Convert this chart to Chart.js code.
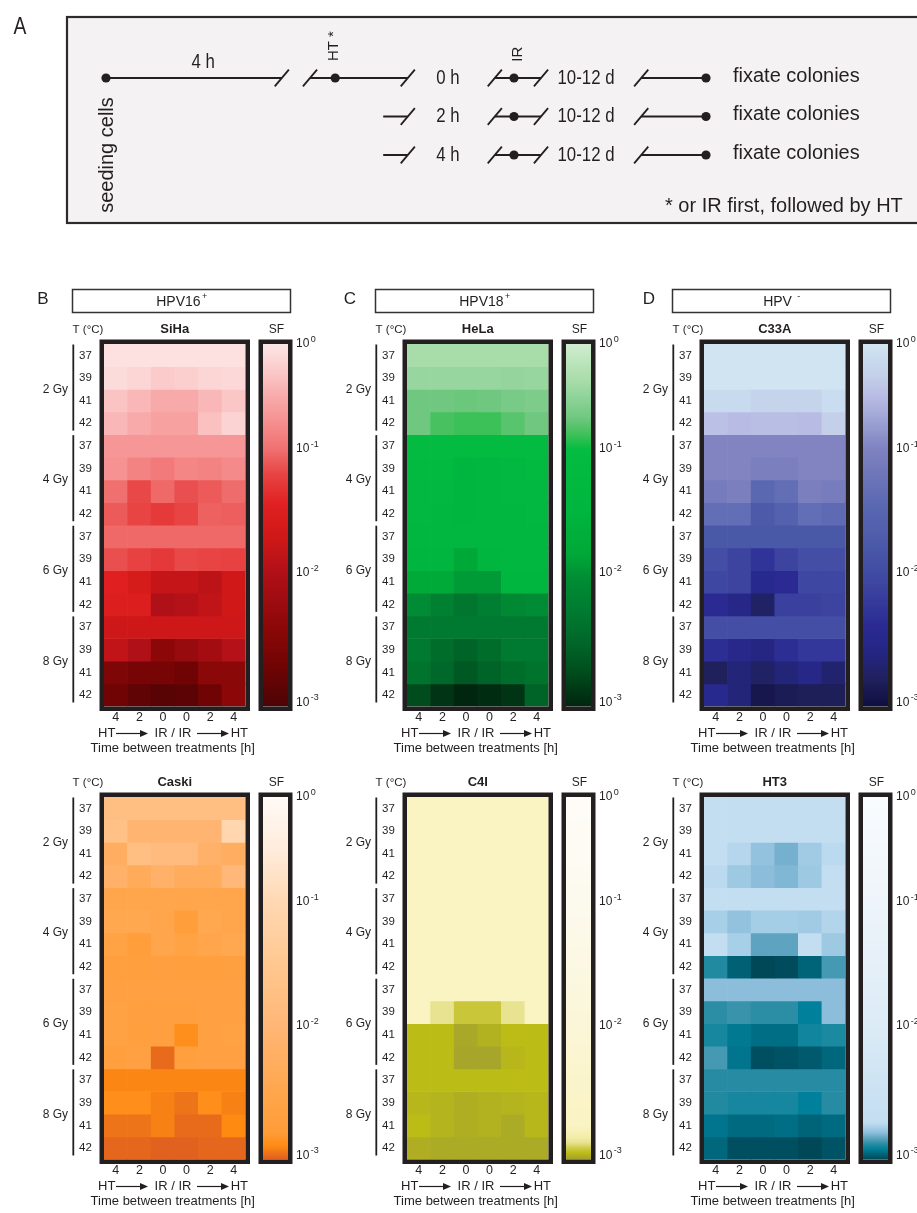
<!DOCTYPE html>
<html>
<head>
<meta charset="utf-8">
<title>Clonogenic survival after HT and IR</title>
<script src="https://cdn.jsdelivr.net/npm/chart.js@4.4.0/dist/chart.umd.min.js"></script>
<style>
  html, body { margin:0; padding:0; background:#fff; width:917px; height:1213px; overflow:hidden; position:relative; }
  canvas { position:absolute; }
</style>
</head>
<body>
<script>
// ---- data -------------------------------------------------------------
const temps = ['37','39','41','42']
const doses = ['2 Gy','4 Gy','6 Gy','8 Gy']
const gaps  = ['4','2','0','0','2','4']          // time between treatments [h]
const sfTicks = [0,-1,-2,-3]                     // log10 SF shown on the colour bar
const sfExp   = ['0','-1','-2','-3']

// log10 surviving fraction, rows: 2 Gy 37..42, 4 Gy ..., 8 Gy 42 ; cols as in gaps
const siha = [
  [-0.05,-0.05,-0.05,-0.05,-0.05,-0.05],
  [-0.10,-0.15,-0.25,-0.20,-0.15,-0.12],
  [-0.30,-0.40,-0.50,-0.50,-0.40,-0.28],
  [-0.40,-0.50,-0.58,-0.58,-0.33,-0.17],
  [-0.68,-0.68,-0.68,-0.68,-0.68,-0.68],
  [-0.72,-0.85,-0.92,-0.82,-0.85,-0.78],
  [-1.00,-1.18,-1.03,-1.15,-1.10,-1.02],
  [-1.10,-1.20,-1.27,-1.20,-1.07,-1.08],
  [-1.03,-1.03,-1.03,-1.03,-1.03,-1.03],
  [-1.15,-1.22,-1.28,-1.18,-1.20,-1.22],
  [-1.45,-1.60,-1.80,-1.80,-1.90,-1.70],
  [-1.50,-1.50,-2.00,-1.95,-1.85,-1.70],
  [-1.72,-1.72,-1.72,-1.72,-1.72,-1.72],
  [-1.85,-2.00,-2.40,-2.28,-2.15,-1.95],
  [-2.55,-2.62,-2.62,-2.70,-2.42,-2.42],
  [-2.70,-2.83,-2.90,-2.87,-2.70,-2.40]
]
const hela = [
  [-0.35,-0.35,-0.35,-0.35,-0.35,-0.35],
  [-0.45,-0.45,-0.45,-0.45,-0.47,-0.45],
  [-0.70,-0.70,-0.72,-0.70,-0.65,-0.62],
  [-0.70,-0.83,-0.87,-0.87,-0.78,-0.70],
  [-1.10,-1.10,-1.10,-1.10,-1.10,-1.10],
  [-1.20,-1.20,-1.50,-1.40,-1.30,-1.20],
  [-1.30,-1.30,-1.50,-1.40,-1.30,-1.30],
  [-1.30,-1.40,-1.50,-1.40,-1.40,-1.30],
  [-1.40,-1.40,-1.40,-1.40,-1.40,-1.40],
  [-1.50,-1.50,-1.85,-1.50,-1.40,-1.40],
  [-1.80,-1.80,-1.95,-1.95,-1.50,-1.50],
  [-2.05,-2.20,-2.35,-2.25,-2.10,-2.05],
  [-2.30,-2.30,-2.30,-2.30,-2.30,-2.30],
  [-2.30,-2.45,-2.55,-2.45,-2.30,-2.30],
  [-2.38,-2.50,-2.65,-2.55,-2.45,-2.38],
  [-2.75,-2.90,-3.00,-2.95,-2.90,-2.55]
]
const c33a = [
  [-0.02,-0.02,-0.02,-0.02,-0.02,-0.02],
  [-0.02,-0.02,-0.02,-0.02,-0.02,-0.02],
  [-0.15,-0.15,-0.25,-0.25,-0.25,-0.12],
  [-0.45,-0.50,-0.48,-0.48,-0.50,-0.30],
  [-0.98,-0.98,-0.98,-0.98,-0.98,-0.98],
  [-0.98,-0.98,-1.05,-1.05,-0.98,-0.98],
  [-1.12,-1.05,-1.45,-1.35,-1.05,-1.10],
  [-1.35,-1.35,-1.75,-1.60,-1.35,-1.40],
  [-1.80,-1.80,-1.80,-1.80,-1.80,-1.80],
  [-1.95,-2.10,-2.30,-2.10,-1.95,-1.95],
  [-2.05,-2.10,-2.45,-2.40,-2.05,-2.05],
  [-2.40,-2.55,-2.75,-2.15,-2.15,-2.10],
  [-1.95,-1.95,-1.95,-1.95,-1.95,-1.95],
  [-2.35,-2.50,-2.60,-2.35,-2.25,-2.25],
  [-2.80,-2.65,-2.75,-2.65,-2.55,-2.70],
  [-2.45,-2.65,-2.90,-2.85,-2.82,-2.82]
]
const caski = [
  [-1.75,-1.75,-1.75,-1.75,-1.75,-1.75],
  [-1.70,-2.05,-2.05,-2.05,-2.05,-1.05],
  [-2.25,-1.75,-1.85,-1.85,-2.15,-2.25],
  [-2.15,-2.35,-2.15,-2.30,-2.30,-1.95],
  [-2.50,-2.50,-2.50,-2.50,-2.50,-2.50],
  [-2.45,-2.45,-2.50,-2.75,-2.45,-2.50],
  [-2.60,-2.75,-2.50,-2.60,-2.50,-2.45],
  [-2.72,-2.72,-2.70,-2.72,-2.72,-2.68],
  [-2.65,-2.65,-2.65,-2.65,-2.65,-2.65],
  [-2.62,-2.70,-2.70,-2.70,-2.65,-2.65],
  [-2.62,-2.72,-2.70,-2.87,-2.65,-2.62],
  [-2.72,-2.65,-2.97,-2.72,-2.65,-2.65],
  [-2.91,-2.91,-2.91,-2.91,-2.91,-2.91],
  [-2.88,-2.88,-2.92,-2.95,-2.88,-2.92],
  [-2.95,-2.95,-2.92,-2.97,-2.97,-2.90],
  [-2.98,-2.98,-2.99,-2.99,-2.98,-2.98]
]
const c4i = [
  [-2.75,-2.75,-2.75,-2.75,-2.75,-2.75],
  [-2.75,-2.75,-2.75,-2.75,-2.75,-2.75],
  [-2.75,-2.75,-2.75,-2.75,-2.75,-2.75],
  [-2.75,-2.75,-2.75,-2.75,-2.75,-2.75],
  [-2.75,-2.75,-2.75,-2.75,-2.75,-2.75],
  [-2.75,-2.75,-2.75,-2.75,-2.75,-2.75],
  [-2.75,-2.75,-2.75,-2.75,-2.75,-2.75],
  [-2.75,-2.75,-2.75,-2.75,-2.75,-2.75],
  [-2.75,-2.75,-2.75,-2.75,-2.75,-2.75],
  [-2.75,-2.87,-2.925,-2.925,-2.87,-2.75],
  [-2.95,-2.95,-2.985,-2.97,-2.95,-2.95],
  [-2.95,-2.95,-2.99,-2.99,-2.96,-2.95],
  [-2.95,-2.95,-2.95,-2.95,-2.95,-2.95],
  [-2.96,-2.965,-2.975,-2.97,-2.965,-2.96],
  [-2.95,-2.965,-2.975,-2.97,-2.98,-2.96],
  [-2.975,-2.98,-2.98,-2.98,-2.98,-2.98]
]
const ht3 = [
  [-2.72,-2.72,-2.72,-2.72,-2.72,-2.72],
  [-2.72,-2.72,-2.72,-2.72,-2.72,-2.72],
  [-2.72,-2.74,-2.79,-2.82,-2.77,-2.73],
  [-2.73,-2.775,-2.80,-2.81,-2.775,-2.72],
  [-2.72,-2.72,-2.72,-2.72,-2.72,-2.72],
  [-2.76,-2.79,-2.765,-2.765,-2.77,-2.745],
  [-2.72,-2.76,-2.84,-2.84,-2.72,-2.775],
  [-2.89,-2.965,-3.00,-2.995,-2.96,-2.86],
  [-2.80,-2.80,-2.80,-2.80,-2.80,-2.80],
  [-2.88,-2.87,-2.88,-2.88,-2.92,-2.80],
  [-2.90,-2.93,-2.945,-2.945,-2.905,-2.895],
  [-2.86,-2.935,-2.99,-2.985,-2.975,-2.955],
  [-2.885,-2.885,-2.885,-2.885,-2.885,-2.885],
  [-2.89,-2.90,-2.90,-2.90,-2.92,-2.885],
  [-2.935,-2.95,-2.95,-2.945,-2.96,-2.95],
  [-2.955,-2.99,-2.99,-2.99,-3.00,-2.985]
]

// ---- colour maps (log10 SF -> colour) -------------------------------
const sihaCmap  = [[0,'#fde6e6'],[-0.3,'#fbc4c4'],[-0.5,'#f8aaaa'],[-0.7,'#f69494'],[-1,'#f07070'],[-1.2,'#e84444'],[-1.45,'#e02020'],[-1.7,'#d01818'],[-2,'#b01018'],[-2.4,'#8c0808'],[-2.7,'#700404'],[-3,'#4c0406']]
const helaCmap  = [[0,'#d0ecd0'],[-0.35,'#a8dca8'],[-0.45,'#98d6a0'],[-0.7,'#70c880'],[-0.87,'#3cc058'],[-1,'#04bc42'],[-1.5,'#00b63e'],[-1.85,'#00a838'],[-2.05,'#008c34'],[-2.3,'#007a30'],[-2.55,'#006428'],[-2.75,'#004c1c'],[-2.9,'#003414'],[-3,'#002610']]
const c33aCmap  = [[0,'#d2e6f2'],[-0.15,'#c8daee'],[-0.3,'#c4d0ea'],[-0.5,'#b8bce4'],[-0.7,'#a0a6d6'],[-1,'#7f82c0'],[-1.45,'#5a68b2'],[-1.8,'#4a58a8'],[-2.1,'#3c44a0'],[-2.4,'#2a2a92'],[-2.6,'#242682'],[-2.8,'#20205c'],[-3,'#0e0e40']]
const caskiCmap = [[0,'#fffaf6'],[-0.5,'#ffecdc'],[-1,'#ffd8b2'],[-1.5,'#ffc890'],[-2,'#ffb676'],[-2.5,'#ffa64c'],[-2.8,'#ff9c38'],[-2.9,'#ff8a12'],[-3,'#de5e20']]
const c4iCmap   = [[0,'#fffcf8'],[-1,'#fcfaee'],[-2,'#fbf6d8'],[-2.75,'#faf3c2'],[-2.84,'#f2eca8'],[-2.88,'#e4e088'],[-2.92,'#ccc840'],[-2.95,'#bcbc16'],[-3,'#a2a030']]
const ht3Cmap   = [[0,'#f9fcff'],[-1,'#eef4fa'],[-2,'#dcebf6'],[-2.72,'#c3def1'],[-2.76,'#a8cfe8'],[-2.8,'#8cbedc'],[-2.84,'#5ea4c0'],[-2.88,'#2c8ea4'],[-2.92,'#00809a'],[-2.96,'#006478'],[-3,'#004858']]

// the colour bar is not evenly divided between decades
const barTickFrac = [0, 0.29, 0.632, 1]

const panels = [
  {name:'SiHa',  values:siha,  cmap:sihaCmap,  col:0, row:0, letter:'B', group:'HPV16', sup:'+'},
  {name:'HeLa',  values:hela,  cmap:helaCmap,  col:1, row:0, letter:'C', group:'HPV18', sup:'+'},
  {name:'C33A',  values:c33a,  cmap:c33aCmap,  col:2, row:0, letter:'D', group:'HPV ', sup:'-'},
  {name:'Caski', values:caski, cmap:caskiCmap, col:0, row:1},
  {name:'C4I',   values:c4i,   cmap:c4iCmap,   col:1, row:1},
  {name:'HT3',   values:ht3,   cmap:ht3Cmap,   col:2, row:1}
]

// ---- helpers ----------------------------------------------------------
const ink = '#231f20'
const sans = "'Liberation Sans', Arial, sans-serif"
const font = (s, w) => (w ? w + ' ' : '') + s + 'px ' + sans
const colDx = [0, 303, 600]
const rowDy = [0, 453]

function hex2rgb(h) { return [1,3,5].map(i => parseInt(h.slice(i, i+2), 16)) }
function cmapColor(stops, v) {
  if (v >= stops[0][0]) return stops[0][1]
  for (let i = 1; i < stops.length; i++) {
    if (v >= stops[i][0]) {
      const a = stops[i-1], b = stops[i], t = (a[0]-v)/(a[0]-b[0])
      const ca = hex2rgb(a[1]), cb = hex2rgb(b[1])
      return 'rgb(' + ca.map((c,k) => Math.round(c + (cb[k]-c)*t)).join(',') + ')'
    }
  }
  return stops[stops.length-1][1]
}
function interp(xs, ys, v) {
  for (let i = 1; i < xs.length; i++) {
    const lo = Math.min(xs[i-1], xs[i]), hi = Math.max(xs[i-1], xs[i])
    if (v >= lo && v <= hi) return ys[i-1] + (ys[i]-ys[i-1])*(v-xs[i-1])/(xs[i]-xs[i-1])
  }
  return v > xs[0] ? ys[0] : ys[ys.length-1]
}
const logToFrac = v => interp(sfTicks, barTickFrac, v)
const fracToLog = f => interp(barTickFrac, sfTicks, f)

function makeCanvas(left, top, w, h) {
  const c = document.createElement('canvas')
  c.width = w; c.height = h
  c.style.left = left + 'px'; c.style.top = top + 'px'
  c.style.width = w + 'px'; c.style.height = h + 'px'
  document.body.appendChild(c)
  return c
}
function supText(c, base, sup, x, y, size, supSize, align) {
  c.font = font(size)
  const wb = c.measureText(base).width
  c.font = font(supSize)
  const ws = c.measureText(sup).width
  let x0 = align === 'center' ? x - (wb + ws + 1)/2 : x
  c.textAlign = 'left'
  c.font = font(size); c.fillText(base, x0, y)
  c.font = font(supSize); c.fillText(sup, x0 + wb + 1.5, y - size*0.4)
}
// condensed text (the scheme uses a narrow face)
function narrowText(c, t, x, y, size, align) {
  c.save(); c.translate(x, y); c.scale(0.84, 1)
  c.font = font(size); c.textAlign = align || 'center'
  c.fillText(t, 0, 0); c.restore()
}
function arrow(c, x1, x2, y) {
  c.lineWidth = 1.2
  c.beginPath(); c.moveTo(x1, y); c.lineTo(x2 - 6, y); c.stroke()
  c.beginPath(); c.moveTo(x2, y); c.lineTo(x2 - 8, y - 3.5); c.lineTo(x2 - 8, y + 3.5); c.closePath(); c.fill()
}

const baseOpts = {
  responsive:false, animation:false, devicePixelRatio:1, events:[],
  plugins:{ legend:{display:false}, tooltip:{enabled:false} }
}

// ---- A: protocol scheme -----------------------------------------------
const armRows   = [0, 1, 2]
const armLabels = ['0 h', '2 h', '4 h']
// schematic positions along the protocol (seeding = 0, fixation = 100)
const at = {seed:0, brk1:29.3, brk2:34, ht:38.2, armStart:46.2, armEnd:50.3, armLabel:57,
            irIn:64.8, ir:68, irOut:72.5, growth:80, fixIn:89.2, fix:100, fixLabel:104.5, note:132.8}

function seg(x0, x1, r) {
  return {data:[{x:x0,y:r},{x:x1,y:r}], showLine:true, borderColor:ink, borderWidth:2, pointRadius:0, clip:false}
}
const schemeSets = [seg(at.seed, at.brk1, 0), seg(at.brk2, at.armEnd, 0)]
armRows.forEach(r => {
  if (r > 0) schemeSets.push(seg(at.armStart, at.armEnd, r))
  schemeSets.push(seg(at.irIn, at.irOut, r))
  schemeSets.push(seg(at.fixIn, at.fix, r))
})
schemeSets.push({
  data:[{x:at.seed,y:0},{x:at.ht,y:0}].concat(armRows.map(r => ({x:at.ir,y:r})), armRows.map(r => ({x:at.fix,y:r}))),
  pointRadius:4.6, pointBackgroundColor:ink, pointBorderWidth:0, clip:false
})
schemeSets.push({
  data:[{x:at.brk1,y:0},{x:at.brk2,y:0}].concat(...armRows.map(r => [at.armEnd, at.irIn, at.irOut, at.fixIn].map(x => ({x, y:r})))),
  pointStyle:'line', pointRotation:-50, pointRadius:11, pointBorderColor:ink, pointBorderWidth:1.8, clip:false
})

const schemeText = {
  id:'schemeText',
  beforeDraw(chart) {
    const c = chart.ctx
    c.save()
    c.fillStyle = '#f4f2f2'; c.fillRect(67, 17, 870, 206)
    c.strokeStyle = '#2b2b2b'; c.lineWidth = 2.2; c.strokeRect(67, 17, 870, 206)
    c.fillStyle = ink; c.textBaseline = 'middle'
    narrowText(c, 'A', 20, 28, 23)
    c.restore()
  },
  afterDatasetsDraw(chart) {
    const c = chart.ctx, x = chart.scales.x, y = chart.scales.y
    const px = v => x.getPixelForValue(v), py = v => y.getPixelForValue(v)
    c.save()
    c.fillStyle = ink; c.textBaseline = 'middle'
    narrowText(c, '4 h', px(16.2), py(-0.4), 20)
    armRows.forEach(r => {
      narrowText(c, armLabels[r], px(at.armLabel), py(r), 20)
      narrowText(c, '10-12 d', px(at.growth), py(r), 20)
      c.font = font(20); c.textAlign = 'left'
      c.fillText('fixate colonies', px(at.fixLabel), py(r - 0.05))
    })
    c.textAlign = 'right'; c.font = font(20)
    c.fillText('* or IR first, followed by HT', px(at.note), py(3.35))
    const vtext = (t, vx, vy, f) => {
      c.save(); c.translate(vx, vy); c.rotate(-Math.PI/2); c.font = f; c.textAlign = 'center'
      c.fillText(t, 0, 0); c.restore()
    }
    vtext('HT *', px(at.ht - 0.2), py(-0.83), font(15))
    vtext('IR', px(68.7), py(-0.62), font(15))
    vtext('seeding cells', px(0.17), py(2.0), font(20))
    c.restore()
  }
}

new Chart(makeCanvas(0, 0, 917, 240), {
  type:'scatter',
  data:{ datasets:schemeSets },
  options:Object.assign({}, baseOpts, {
    layout:{ padding:{left:106, right:211, top:78, bottom:85} },
    scales:{ x:{type:'linear', min:0, max:100, display:false}, y:{type:'linear', min:0, max:2, reverse:true, display:false} }
  }),
  plugins:[schemeText]
})

// ---- B-D: heat maps ------------------------------------------------------
function heatLabels(p) {
  return {
    id:'heatLabels',
    afterDraw(chart) {
      const c = chart.ctx, a = chart.chartArea, x = chart.scales.x, y = chart.scales.y
      const mid = (a.left + a.right)/2
      c.save()
      c.fillStyle = ink; c.strokeStyle = ink
      c.lineWidth = 4.5
      c.strokeRect(a.left - 2.25, a.top - 2.25, a.right - a.left + 4.5, a.bottom - a.top + 4.5)
      c.textBaseline = 'middle'; c.textAlign = 'center'
      c.font = font(11.5); c.fillText('T (°C)', a.left - 16, a.top - 14)
      c.font = font(13, 'bold'); c.fillText(p.name, mid, a.top - 15)
      c.font = font(11.5)
      p.values.forEach((_, i) => c.fillText(temps[i % 4], a.left - 18.5, y.getPixelForValue(i + 0.5)))
      c.lineWidth = 1.8; c.font = font(12)
      doses.forEach((d, g) => {
        const t = y.getPixelForValue(4*g), b = y.getPixelForValue(4*g + 4)
        c.beginPath(); c.moveTo(a.left - 30.7, t + 0.5); c.lineTo(a.left - 30.7, b - 4); c.stroke()
        c.textAlign = 'right'; c.fillText(d, a.left - 36, (t + b)/2)
      })
      c.textAlign = 'center'; c.font = font(12.5)
      gaps.forEach((g, i) => c.fillText(g, x.getPixelForValue(i), a.bottom + 11))
      const yy = a.bottom + 27
      c.font = font(13)
      c.textAlign = 'left';   c.fillText('HT', a.left - 6, yy)
      arrow(c, a.left + 12, a.left + 44, yy)
      c.textAlign = 'center'; c.fillText('IR / IR', a.left + 69, yy)
      arrow(c, a.left + 93, a.left + 125, yy)
      c.textAlign = 'right';  c.fillText('HT', a.left + 144, yy)
      c.textAlign = 'center'; c.fillText('Time between treatments [h]', mid - 2, a.bottom + 42)
      if (p.group) {
        c.lineWidth = 1.5; c.strokeStyle = '#333'
        c.strokeRect(42.5, 9.5, 218, 23)
        supText(c, p.group, p.sup, 151.5, 22, 14, 9, 'center')
        c.font = font(17); c.textAlign = 'center'
        c.fillText(p.letter, [13, 17, 19][p.col], 19)
      }
      c.restore()
    }
  }
}

const barLabels = {
  id:'barLabels',
  afterDraw(chart) {
    const c = chart.ctx, a = chart.chartArea, y = chart.scales.y
    c.save()
    c.fillStyle = ink; c.strokeStyle = ink; c.lineWidth = 4.5
    c.strokeRect(a.left - 2.25, a.top - 2.25, a.right - a.left + 4.5, a.bottom - a.top + 4.5)
    c.textBaseline = 'middle'; c.textAlign = 'center'; c.font = font(12)
    c.fillText('SF', (a.left + a.right)/2 + 1, a.top - 14)
    sfTicks.forEach((t, i) => {
      const ty = Math.min(Math.max(y.getPixelForValue(logToFrac(t)), a.top - 1), a.bottom - 4)
      supText(c, '10', sfExp[i], a.right + 8, ty, 12, 9, 'left')
    })
    c.restore()
  }
}

function barGradient(chart, stops) {
  const a = chart.chartArea
  if (!a || !isFinite(a.top) || !isFinite(a.bottom)) return stops[0][1]
  const g = chart.ctx.createLinearGradient(0, a.top, 0, a.bottom)
  for (let k = 0; k <= 150; k++) g.addColorStop(k/150, cmapColor(stops, fracToLog(k/150)))
  return g
}

panels.forEach(p => {
  const left = 30 + colDx[p.col], top = 280 + rowDy[p.row]
  new Chart(makeCanvas(left, top, 300, 480), {
    type:'bar',
    data:{
      labels:gaps,
      datasets:p.values.map((row, i) => ({
        label:doses[Math.floor(i/4)] + ' ' + temps[i % 4] + ' °C',
        data:row.map(() => 1),
        backgroundColor:row.map(v => cmapColor(p.cmap, v)),
        borderWidth:0, barPercentage:1, categoryPercentage:1, stack:'rows'
      }))
    },
    options:Object.assign({}, baseOpts, {
      layout:{ padding:{left:74, right:84.5, top:64, bottom:53.5} },
      scales:{
        x:{ display:false, stacked:true },
        y:{ display:false, stacked:true, min:0, max:16, reverse:true }
      }
    }),
    plugins:[heatLabels(p)]
  })
  new Chart(makeCanvas(225 + colDx[p.col], top, 110, 480), {
    type:'bar',
    data:{ labels:['SF'], datasets:[{ data:[[0, 1]], backgroundColor:ctx => barGradient(ctx.chart, p.cmap), borderWidth:0, barPercentage:1, categoryPercentage:1 }] },
    options:Object.assign({}, baseOpts, {
      layout:{ padding:{left:38, right:47, top:64, bottom:53.5} },
      scales:{ x:{display:false}, y:{display:false, min:0, max:1, reverse:true} }
    }),
    plugins:[barLabels]
  })
})
</script>
</body>
</html>
